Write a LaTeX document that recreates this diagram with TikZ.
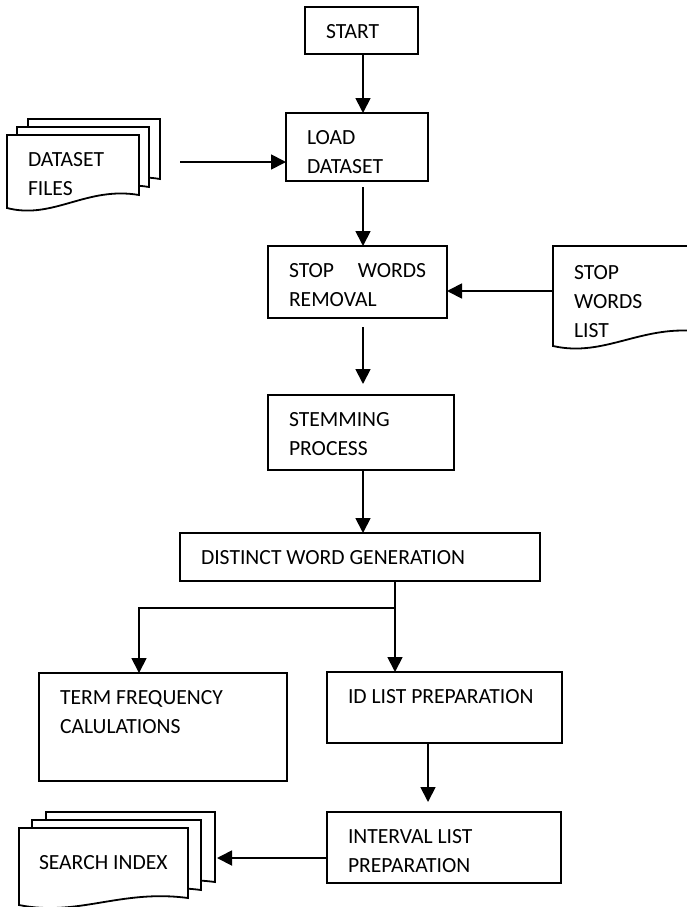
\documentclass[tikz,border=0pt]{standalone}
\usepackage{fontspec}
\setmainfont{Carlito}
\usepackage{tikz}
\usetikzlibrary{arrows.meta,positioning,calc,backgrounds}

\newcommand{\docoutline}[4]{%
  \draw[docline] ([shift={(#2,#3)}]#1.north west) -- ([shift={(#2,#3)}]#1.north east)
    -- ([shift={(#2,#3-#4)}]#1.south east)
    .. controls ($(#1.south west)!0.6!(#1.south east)+(#2,#3-#4-9)$)
    and ($(#1.south west)!0.35!(#1.south east)+(#2,#3+12)$)
    .. ([shift={(#2,#3)}]#1.south west) -- cycle;}

\begin{document}
\begin{tikzpicture}[x=1pt, y=-1pt, every node/.style={font=\fontsize{21.6}{29.3}\selectfont}]
\tikzset{proc/.style={draw, line width=1.8pt, outer sep=0pt, inner xsep=21pt, inner ysep=0pt, text height=31pt, align=flush left}}
\tikzset{doc/.style={outer sep=0pt, inner xsep=21pt, inner ysep=0pt, align=flush left, anchor=north west}}
\tikzset{docline/.style={draw, fill=white, line width=1.8pt}}
\tikzset{arr/.style={line width=1.8pt, -{Triangle[length=15pt,width=15pt]}}}
\useasboundingbox (0,0) rectangle (687,907);
\node[proc, anchor=north, text width=71pt, text depth=16pt] (start) at (361.5,7) {START};
\node[proc, below=59pt of start, xshift=-4.5pt, text width=100pt, text depth=37pt] (load) {LOAD\\DATASET};
\node[proc, below=65pt of load, xshift=0.5pt, text width=137pt, text depth=41pt] (stopr) {STOP\hfill WORDS\\REMOVAL};
\node[proc, below=77pt of stopr, xshift=3.5pt, text width=144pt, text depth=44pt] (stem) {STEMMING\\PROCESS};
\node[proc, below=63pt of stem, xshift=-1pt, text width=318pt, text depth=17pt] (dist) {DISTINCT WORD GENERATION};
\node[proc, anchor=north west, text width=206pt, text depth=77pt] (term) at (39,673) {TERM FREQUENCY\\CALULATIONS};
\node[proc, anchor=north west, text width=193pt, text depth=40pt] (idl) at (327,672) {ID LIST PREPARATION};
\node[proc, below=69pt of idl, xshift=-0.5pt, text width=192pt, text depth=40pt] (intv) {INTERVAL LIST\\PREPARATION};
\node[doc, text width=90pt, text height=31pt, text depth=42pt] (files) at (7,135) {DATASET\\FILES};
\node[doc, inner xsep=20pt, text width=129pt, text height=41pt, text depth=36pt] (sidx) at (19,828) {\mbox{SEARCH INDEX}};
\node[doc, text width=108pt, text height=33pt, text depth=67pt] (swl) at (553,246) {STOP\\WORDS\\LIST};
\begin{scope}[on background layer]
\docoutline{files}{21}{-16}{13}
\docoutline{files}{10}{-8}{13}
\docoutline{files}{0}{0}{13}
\docoutline{sidx}{27}{-16}{7}
\docoutline{sidx}{13}{-8}{7}
\docoutline{sidx}{0}{0}{7}
\docoutline{swl}{0}{0}{14}
\end{scope}
\coordinate (spine) at (363,0);
\draw[arr] (start.south -| spine) -- (load.north -| spine);
\draw[arr, shorten <=6pt] (load.south -| spine) -- (stopr.north -| spine);
\draw[arr, shorten <=9pt, shorten >=11pt] (stopr.south -| spine) -- (stem.north -| spine);
\draw[arr] (stem.south -| spine) -- (dist.north -| spine);
\coordinate (fork) at (395,608);
\draw[arr] (dist.south -| fork) -- (idl.north -| fork);
\draw[arr] (fork) -| ([xshift=-24pt]term.north);
\draw[arr, shorten >=10pt] ([xshift=-16.5pt]idl.south) -- ([xshift=-16pt]intv.north);
\path ([shift={(0,10.5)}]intv.west) coordinate (iw);
\coordinate (sidxedge) at ([shift={(29,0)}]sidx.east);
\draw[arr] (iw) -- (iw -| sidxedge);
\path ([shift={(0,15)}]load.west) coordinate (lw);
\coordinate (filesedge) at ([shift={(41,0)}]files.east);
\draw[arr] (lw -| filesedge) -- (lw);
\path ([shift={(0,9)}]stopr.east) coordinate (sw);
\draw[arr] (sw -| swl.west) -- (sw);
\end{tikzpicture}
\end{document}
